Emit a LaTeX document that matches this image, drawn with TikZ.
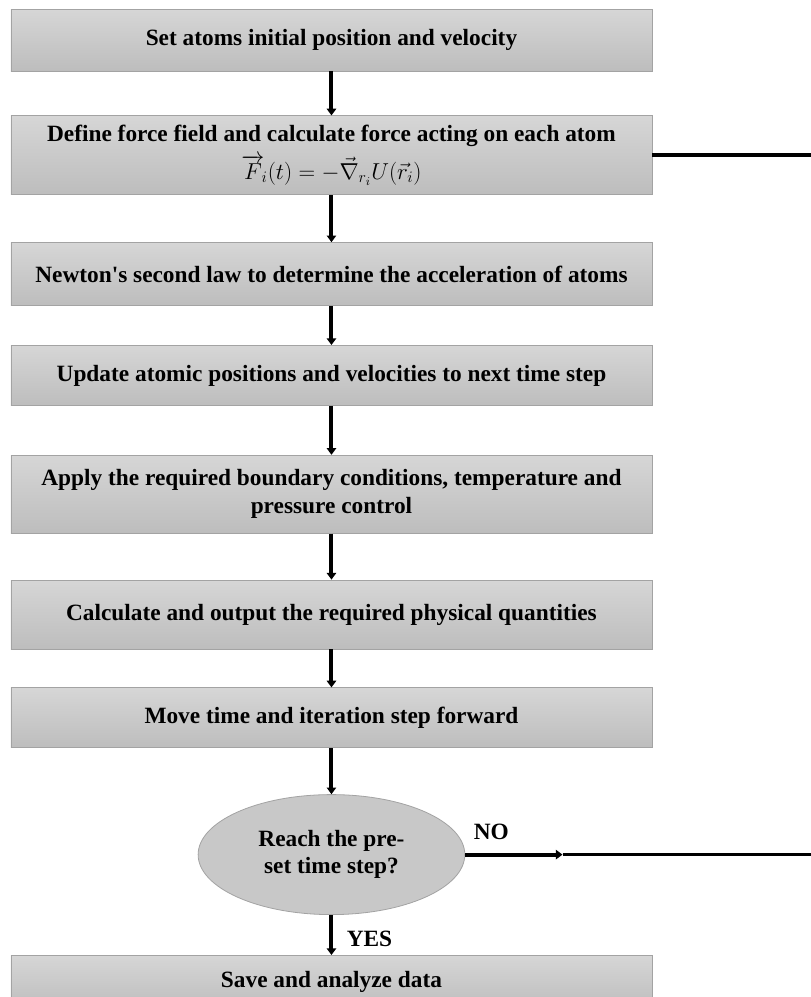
\documentclass[tikz,border=0pt]{standalone}
\usepackage{amsmath,amssymb}
\usepackage{fontspec}
\setmainfont{Liberation Serif}
\usepackage{tikz}
\usetikzlibrary{arrows.meta,positioning,shapes.geometric}
\definecolor{flowtop}{HTML}{D6D6D6}
\definecolor{flowbottom}{HTML}{BDBDBD}
\definecolor{flowline}{HTML}{A3A3A3}
\definecolor{decisionfill}{HTML}{C8C8C8}
\tikzset{
  stepbox/.style={rectangle, draw=flowline, top color=flowtop, bottom color=flowbottom, line width=0.6pt, align=center, font=\fontsize{17.5pt}{21pt}\selectfont\bfseries, minimum width=480.75pt, inner sep=3pt},
  decision/.style={ellipse, draw=flowline, fill=decisionfill, line width=0.6pt, align=center, font=\fontsize{17.5pt}{20pt}\selectfont\bfseries, minimum width=200pt, minimum height=90pt, inner sep=0pt},
  flowedge/.style={-{Triangle[length=5pt,width=7pt]}, line width=3pt, draw=black},
  loopedge/.style={line width=3pt, draw=black},
  thinedge/.style={line width=2.2pt, draw=black},
  answer/.style={font=\fontsize{17.5pt}{21pt}\selectfont\bfseries, inner sep=2pt}
}

\begin{document}
\begin{tikzpicture}[node distance=33pt]
  \useasboundingbox (0,0) rectangle (608.25pt,-747.75pt);
  \coordinate (rt) at (608.25pt,0);
  \node[stepbox, minimum height=46.5pt] (init) at (248.6pt,-30pt) {Set atoms initial position and velocity};
  \node[stepbox, below=33pt of init, minimum height=59.25pt] (force) {Define force field and calculate force acting on each atom\\[5pt] $\overrightarrow{F}_{\!i}(t)=-\vec{\nabla}_{r_i}U(\vec{r}_i)$};
  \node[stepbox, below=35.25pt of force, minimum height=47.25pt] (accel) {Newton\textquotesingle s second law to determine the acceleration of atoms};
  \node[stepbox, below=29.25pt of accel, minimum height=45pt] (update) {Update atomic positions and velocities to next time step};
  \node[stepbox, below=36.75pt of update, minimum height=58.5pt] (bound) {Apply the required boundary conditions, temperature and\\ pressure control};
  \node[stepbox, below=34.5pt of bound, minimum height=51.75pt] (output) {Calculate and output the required physical quantities};
  \node[stepbox, below=28.5pt of output, minimum height=45pt] (move) {Move time and iteration step forward};
  \node[decision, below=34.5pt of move] (dec) {Reach the pre-\\ set time step?};
  \node[stepbox, below=30pt of dec, minimum height=40.5pt] (save) {Save and analyze data};
  \coordinate (nomid) at ([xshift=73pt]dec.east);
  \draw[flowedge] (init) -- (force);
  \draw[flowedge] (force) -- (accel);
  \draw[flowedge] (accel) -- (update);
  \draw[flowedge] (update) -- (bound);
  \draw[flowedge] (bound) -- (output);
  \draw[flowedge] (output) -- (move);
  \draw[flowedge] (move) -- (dec);
  \draw[flowedge] (dec) -- node[answer, right, xshift=8pt, yshift=-3pt] {YES} (save);
  \draw[loopedge] (force.east) -- (force.east -| rt);
  \draw[flowedge] (dec.east) -- node[answer, pos=0, above right, xshift=3pt, yshift=8pt] {NO} (nomid);
  \draw[thinedge] (nomid) -- (nomid -| rt);
\end{tikzpicture}
\end{document}
